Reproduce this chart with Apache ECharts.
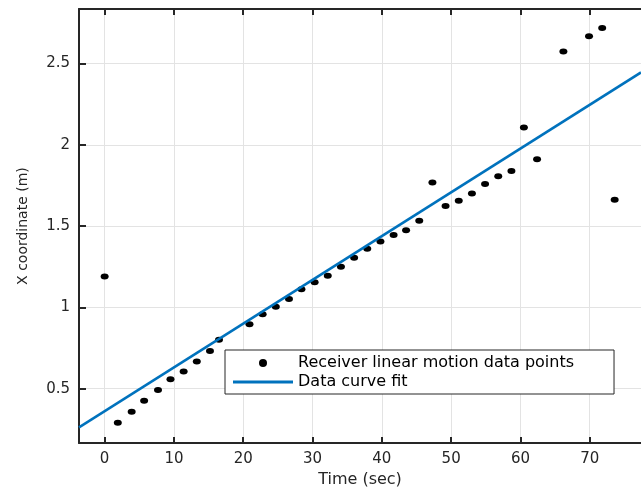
<!DOCTYPE html>
<html>
<head>
<meta charset="utf-8">
<script src="https://cdn.jsdelivr.net/npm/echarts@6/dist/echarts.min.js"></script>
<style>
  html, body { margin: 0; padding: 0; background: #fff; }
  #chart { width: 641px; height: 493px; }
</style>
</head>
<body>
<div id="chart"></div>
<script>
  // receiver samples
  const times = [0, 1.9, 3.9, 5.7, 7.7, 9.5, 11.4, 13.3, 15.2, 16.5, 20.9, 22.8, 24.7, 26.6, 28.4,
    30.3, 32.2, 34.1, 36.0, 37.9, 39.8, 41.7, 43.5, 45.4, 47.3, 49.2, 51.1, 53.0, 54.9, 56.8,
    58.7, 60.5, 62.4, 66.2, 69.9, 71.8, 73.6]
  const xCoord = [1.19, 0.29, 0.358, 0.425, 0.492, 0.557, 0.606, 0.667, 0.732, 0.80, 0.896, 0.957,
    1.004, 1.051, 1.112, 1.155, 1.195, 1.25, 1.305, 1.36, 1.405, 1.445, 1.474, 1.533, 1.768,
    1.624, 1.655, 1.70, 1.758, 1.807, 1.838, 2.106, 1.911, 2.573, 2.667, 2.718, 1.661]
  // fitted straight line, end points
  const fitTimes = [-3.7, 77.4]
  const fitValues = [0.262, 2.445]
  const xTicks = [0, 10, 20, 30, 40, 50, 60, 70]
  const yTicks = [0.5, 1, 1.5, 2, 2.5]

  const pointsName = 'Receiver linear motion data points'
  const fitName = 'Data curve fit'
  const font = 'DejaVu Sans'
  const axisColor = '#262626'

  const chart = echarts.init(document.getElementById('chart'))
  const option = {
    animation: false,
    backgroundColor: '#fff',
    textStyle: { fontFamily: font },
    grid: { left: 79, top: 9, right: -10, bottom: 46 },
    legend: {
      orient: 'vertical',
      left: 225,
      top: 350,
      padding: [5, 40, 4, 8],
      itemGap: 3,
      itemWidth: 60,
      itemHeight: 8,
      backgroundColor: '#fff',
      borderColor: '#262626',
      borderWidth: 1,
      textStyle: { fontSize: 16, color: '#000', fontFamily: font },
      data: [
        { name: pointsName, icon: 'circle' },
        { name: fitName, icon: 'path://M0,0 L60,0 L60,3 L0,3 Z' }
      ]
    },
    xAxis: [{
      type: 'value',
      min: -3.7,
      max: 77.4,
      name: 'Time (sec)',
      nameLocation: 'middle',
      nameGap: 26,
      nameTextStyle: { fontSize: 16, color: axisColor, fontFamily: font },
      axisLine: { onZero: false, lineStyle: { color: axisColor, width: 2 } },
      axisTick: { inside: true, length: 6, customValues: xTicks, lineStyle: { color: axisColor, width: 2 } },
      axisLabel: { customValues: xTicks, fontSize: 15, color: axisColor, margin: 9 },
      splitLine: { show: true, lineStyle: { color: '#e3e3e3', width: 1 } }
    }, {
      type: 'value',
      position: 'top',
      min: -3.7,
      max: 77.4,
      axisLine: { lineStyle: { color: axisColor, width: 2 } },
      axisTick: { inside: true, length: 6, customValues: xTicks, lineStyle: { color: axisColor, width: 2 } },
      axisLabel: { show: false },
      splitLine: { show: false }
    }],
    yAxis: {
      type: 'value',
      min: 0.165,
      max: 2.835,
      name: 'X coordinate (m)',
      nameLocation: 'middle',
      nameGap: 49,
      nameTextStyle: { fontSize: 14, color: axisColor, fontFamily: font },
      axisLine: { show: true, onZero: false, lineStyle: { color: axisColor, width: 2 } },
      axisTick: { show: true, inside: true, length: 7, customValues: yTicks, lineStyle: { color: axisColor, width: 2 } },
      axisLabel: { customValues: yTicks, fontSize: 15, color: axisColor, margin: 9 },
      splitLine: { show: true, lineStyle: { color: '#e3e3e3', width: 1 } }
    },
    series: [{
      name: pointsName,
      type: 'scatter',
      symbol: 'circle',
      symbolSize: [8, 6],
      itemStyle: { color: '#000', opacity: 1 },
      data: times.map((t, i) => [t, xCoord[i]])
    }, {
      name: fitName,
      type: 'line',
      showSymbol: false,
      lineStyle: { color: '#0072BD', width: 2.5 },
      itemStyle: { color: '#0072BD' },
      data: fitTimes.map((t, i) => [t, fitValues[i]])
    }]
  }
  chart.setOption(option)
</script>
</body>
</html>
